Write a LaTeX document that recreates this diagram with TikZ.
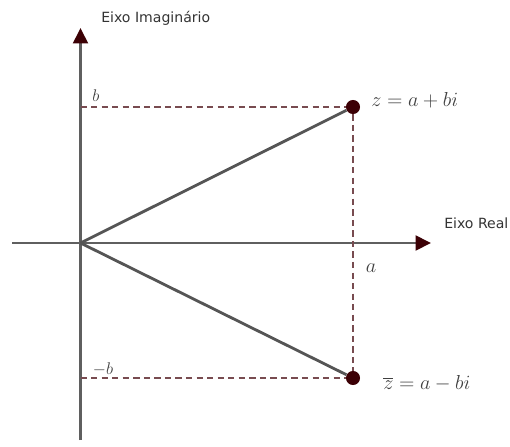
\documentclass[tikz,border=0pt]{standalone}
\usepackage{fontspec}
\setsansfont{DejaVu Sans}
\usepackage{xcolor}
\usepackage{tikz}
\usetikzlibrary{arrows.meta}
\definecolor{eixocol}{RGB}{95,95,95}
\definecolor{pontocol}{RGB}{60,0,5}
\definecolor{tracocol}{RGB}{120,75,80}
\definecolor{vetorcol}{RGB}{85,85,85}

\begin{document}
\begin{tikzpicture}[x=0.025cm, y=-0.025cm,
    eixo/.style={eixocol, line width=1.6pt,
      -{Triangle[length=11pt, width=10.6pt, color=pontocol]}},
    traco/.style={tracocol, line width=1.6pt, dash pattern=on 4.5pt off 3pt},
    vetor/.style={vetorcol, line width=2pt},
    ponto/.style={circle, fill=pontocol, inner sep=0pt, minimum size=10pt},
    rotulo/.style={font=\sffamily\fontsize{10}{12}\selectfont, text=black!80, inner sep=0pt},
    rotmat/.style={font=\fontsize{14}{16}\selectfont, text=black!75, inner sep=0pt}]

    \useasboundingbox (0,0) rectangle (510,446);

    %% eixos
    \coordinate (O) at (80.5,243);
    \coordinate (xini) at (12,243);
    \coordinate (xfim) at (431,243);
    \coordinate (yini) at (80.5,440);
    \coordinate (yfim) at (80.5,28);
    \draw[eixo] (xini) -- (xfim);
    \draw[eixo] (yini) -- (yfim);

    \node[rotulo, anchor=west] (ximag) at (101,18) {Eixo Imaginário};
    \node[rotulo, anchor=west] (xreal) at (444,223) {Eixo Real};

    %% pontos z e conjugado
    \coordinate (pb) at (80.5,107);
    \coordinate (pmb) at (80.5,378);
    \node[ponto] (z) at (353,107) {};
    \node[ponto] (zbar) at (353,378) {};

    \draw[traco] (pb) -- (z);
    \draw[traco] (pmb) -- (zbar);
    \draw[traco] (z) -- (zbar);

    \draw[vetor] (O) -- (z);
    \draw[vetor] (O) -- (zbar);

    %% rotulos
    \node[rotmat, anchor=west] (lz) at (371,100) {$z=a+bi$};
    \node[rotmat, anchor=west] (lzbar) at (383,383) {$\overline{z}=a-bi$};
    \node[rotmat] (la) at (371,268) {$a$};
    \node[rotmat, font=\fontsize{12}{14}\selectfont] (lb) at (96,96) {$b$};
    \node[rotmat, font=\fontsize{12}{14}\selectfont] (lmb) at (103,369) {$-b$};

  \end{tikzpicture}
\end{document}
